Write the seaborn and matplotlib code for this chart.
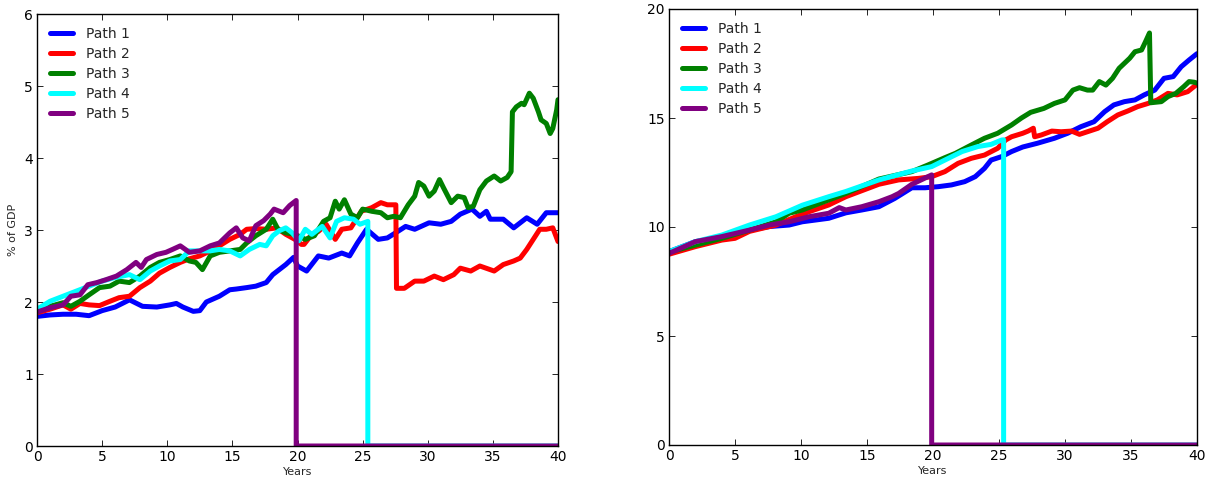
import matplotlib
matplotlib.use("Agg")
import matplotlib.pyplot as plt
import seaborn as sns
import pandas as pd

# ---------------- data: left panel (% of GDP) ----------------
L1_x = [0, 1, 2, 3, 4, 5, 6, 7.1, 8.1, 9.2, 10.2, 10.7, 11.2, 12, 12.5, 13, 14, 14.8, 15.3, 16.1,
        16.8, 17.6, 18.1, 18.6, 19.1, 19.7, 20.0, 20.7, 21.6, 22.4, 23.4, 24, 24.6, 25.3, 26.2, 26.9,
        27.7, 28.3, 29, 30.1, 31, 31.8, 32.5, 33.4, 34, 34.5, 34.8, 35.8, 36.6, 37.6, 38.4, 39.1, 40]
L1_y = [1.80, 1.82, 1.83, 1.83, 1.81, 1.88, 1.93, 2.03, 1.94, 1.93, 1.96, 1.98, 1.93, 1.87, 1.88, 2.00,
        2.08, 2.17, 2.18, 2.20, 2.22, 2.27, 2.38, 2.45, 2.52, 2.62, 2.50, 2.43, 2.64, 2.61, 2.68, 2.64,
        2.82, 3.01, 2.87, 2.89, 2.98, 3.05, 3.01, 3.10, 3.08, 3.12, 3.22, 3.29, 3.19, 3.26, 3.15, 3.15,
        3.03, 3.17, 3.08, 3.24, 3.24]

L2_x = [0, 1, 2, 2.6, 3.3, 4, 4.8, 5.6, 6.3, 7.1, 7.9, 8.7, 9.4, 10.2, 11, 11.7, 12.5, 13.3, 14, 14.8,
        15.6, 16.1, 16.8, 17.6, 18.4, 19.1, 19.8, 20.3, 20.5, 21.1, 21.6, 22.2, 22.9, 23.4, 24.1, 24.9,
        25.7, 26.4, 26.9, 27.55, 27.6, 28.2, 29, 29.7, 30.5, 31.2, 32, 32.5, 33.3, 34, 35.1, 35.8, 36.6,
        37.1, 37.6, 38.1, 38.6, 39.1, 39.6, 40]
L2_y = [1.85, 1.90, 1.96, 1.90, 1.98, 1.96, 1.95, 2.01, 2.06, 2.08, 2.20, 2.29, 2.40, 2.48, 2.55, 2.60,
        2.64, 2.71, 2.78, 2.87, 2.94, 3.01, 3.02, 3.01, 3.03, 2.94, 2.87, 2.80, 2.80, 2.94, 2.98, 3.08,
        2.87, 3.01, 3.03, 3.26, 3.31, 3.38, 3.35, 3.35, 2.19, 2.19, 2.29, 2.29, 2.36, 2.31, 2.38, 2.47,
        2.43, 2.50, 2.43, 2.52, 2.57, 2.61, 2.73, 2.87, 3.01, 3.01, 3.03, 2.84]

L3_x = [0, 1, 2, 2.6, 3.3, 4, 4.8, 5.6, 6.3, 7.1, 7.9, 8.7, 9.4, 10.2, 11, 11.7, 12.2, 12.7, 13.3, 14,
        14.8, 15.6, 16.1, 16.8, 17.6, 18.1, 18.5, 19.1, 19.8, 20.6, 21.3, 22, 22.5, 22.9, 23.2, 23.6,
        24.1, 24.6, 25, 25.7, 26.4, 26.9, 27.4, 27.9, 28.5, 29, 29.3, 29.7, 30.1, 30.5, 30.9, 31.2, 31.8,
        32.3, 32.8, 33.1, 33.5, 34, 34.5, 35.1, 35.6, 36.1, 36.4, 36.5, 36.8, 37.2, 37.4, 37.8, 38.1,
        38.5, 38.7, 39.1, 39.4, 39.6, 39.9, 40]
L3_y = [1.86, 1.94, 1.99, 1.94, 2.01, 2.10, 2.20, 2.22, 2.29, 2.27, 2.36, 2.48, 2.55, 2.59, 2.64, 2.57,
        2.55, 2.45, 2.64, 2.69, 2.71, 2.73, 2.82, 2.92, 3.01, 3.15, 3.01, 2.96, 2.94, 2.87, 2.92, 3.12,
        3.17, 3.40, 3.29, 3.42, 3.22, 3.17, 3.29, 3.26, 3.24, 3.17, 3.19, 3.17, 3.35, 3.47, 3.66, 3.61,
        3.47, 3.54, 3.70, 3.59, 3.38, 3.47, 3.45, 3.31, 3.33, 3.56, 3.68, 3.75, 3.68, 3.73, 3.81, 4.64,
        4.71, 4.76, 4.74, 4.90, 4.83, 4.64, 4.53, 4.48, 4.34, 4.41, 4.67, 4.81]

L4_x = [0, 1, 2, 3, 4, 5, 6, 7.1, 7.9, 8.7, 9.4, 10.2, 11, 11.7, 12.5, 13.3, 14, 14.8, 15.6, 16.3, 17.1,
        17.6, 18.1, 18.6, 19.1, 19.6, 20.1, 20.6, 21.1, 21.9, 22.5, 23, 23.6, 24.3, 24.8, 25.4, 25.4, 40]
L4_y = [1.90, 2.01, 2.08, 2.15, 2.22, 2.29, 2.34, 2.38, 2.31, 2.43, 2.50, 2.57, 2.59, 2.71, 2.71, 2.71,
        2.73, 2.71, 2.64, 2.73, 2.80, 2.78, 2.92, 2.99, 3.03, 2.96, 2.85, 3.01, 2.94, 3.05, 2.89, 3.12,
        3.17, 3.15, 3.08, 3.12, 0, 0]

L5_x = [0, 1, 2, 2.6, 3.3, 3.9, 4.6, 5.3, 6.1, 6.9, 7.6, 8, 8.4, 9.2, 9.9, 10.4, 11, 11.7, 12.5, 13.3,
        14, 14.8, 15.3, 15.8, 16.3, 16.8, 17.4, 17.9, 18.2, 18.9, 19.4, 19.9, 19.9, 40]
L5_y = [1.86, 1.92, 1.96, 2.08, 2.10, 2.24, 2.27, 2.31, 2.36, 2.45, 2.55, 2.48, 2.59, 2.66, 2.69, 2.73,
        2.78, 2.69, 2.71, 2.78, 2.82, 2.96, 3.03, 2.89, 2.85, 3.06, 3.13, 3.22, 3.29, 3.24, 3.34, 3.41, 0, 0]

# ---------------- data: right panel ----------------
R1_x = [0, 2, 4, 6.1, 7.6, 9.1, 10.1, 11.1, 12.1, 13.4, 14.6, 15.9, 17.1, 18.4, 19.4, 20.4, 21.4, 22.4,
        23.2, 23.9, 24.4, 25.2, 25.95, 26.8, 27.9, 29.2, 30.2, 31.2, 32.2, 33, 33.7, 34.5, 35.3, 36, 36.8,
        37.5, 38.2, 38.8, 39.4, 40]
R1_y = [8.87, 9.33, 9.48, 9.86, 10.02, 10.09, 10.24, 10.32, 10.40, 10.65, 10.78, 10.93, 11.31, 11.80,
        11.80, 11.85, 11.93, 12.08, 12.31, 12.69, 13.07, 13.23, 13.46, 13.67, 13.84, 14.07, 14.30, 14.60,
        14.83, 15.29, 15.60, 15.75, 15.83, 16.06, 16.28, 16.82, 16.90, 17.35, 17.66, 17.95]

R2_x = [0, 2, 4, 5, 6.1, 8.1, 9.6, 10.6, 12.1, 13.4, 15.9, 17.4, 18.9, 19.9, 20.9, 21.9, 22.9, 23.9,
        24.9, 25.5, 25.95, 26.8, 27.2, 27.6, 27.7, 28.2, 29, 29.7, 30.5, 31.1, 31.7, 32.5, 33.2, 34,
        34.75, 35.5, 36.3, 37, 37.8, 38.5, 39.3, 40]
R2_y = [8.75, 9.10, 9.40, 9.48, 9.80, 10.09, 10.47, 10.70, 11.01, 11.39, 11.96, 12.16, 12.23, 12.31,
        12.54, 12.92, 13.15, 13.30, 13.61, 13.99, 14.14, 14.30, 14.40, 14.53, 14.14, 14.22, 14.40, 14.37,
        14.40, 14.25, 14.37, 14.53, 14.83, 15.14, 15.32, 15.52, 15.67, 15.83, 16.13, 16.06, 16.21, 16.55]

R3_x = [0, 2, 4, 6.1, 8.1, 9.1, 10.1, 12.1, 13.4, 15.9, 18.4, 19.6, 20.9, 21.7, 22.9, 23.9, 24.9, 25.95,
        26.7, 27.4, 28.4, 29.2, 30, 30.6, 31.1, 31.7, 32.1, 32.6, 33.1, 33.6, 34.1, 34.5, 34.9, 35.3,
        35.8, 36.1, 36.4, 36.5, 37.3, 37.8, 38.4, 39, 39.4, 39.8, 40]
R3_y = [8.85, 9.17, 9.48, 9.86, 10.24, 10.63, 10.78, 11.24, 11.54, 12.20, 12.54, 12.84, 13.18, 13.38,
        13.76, 14.07, 14.30, 14.68, 15.00, 15.26, 15.44, 15.67, 15.83, 16.28, 16.39, 16.28, 16.28, 16.67,
        16.51, 16.82, 17.28, 17.51, 17.74, 18.04, 18.12, 18.50, 18.90, 15.70, 15.75, 15.98, 16.13, 16.44,
        16.67, 16.64, 16.60]

R4_x = [0, 2, 4, 6.1, 8.1, 10.1, 12.1, 13.4, 15.9, 18.4, 19.9, 20.9, 22.2, 23.4, 24.4, 25.2, 25.35,
        25.35, 40]
R4_y = [8.87, 9.33, 9.63, 10.09, 10.47, 11.00, 11.39, 11.63, 12.16, 12.57, 12.77, 13.07, 13.46, 13.69,
        13.79, 13.99, 14.00, 0, 0]

R5_x = [0, 2, 4, 6.1, 7.6, 9.1, 10.6, 12.1, 12.9, 13.4, 14.6, 15.9, 16.9, 17.4, 18.4, 19.1, 19.9,
        19.9, 40]
R5_y = [8.79, 9.33, 9.56, 9.86, 10.09, 10.24, 10.47, 10.63, 10.89, 10.78, 10.93, 11.16, 11.39, 11.54,
        11.96, 12.16, 12.39, 0, 0]

path_names = ["Path 1", "Path 2", "Path 3", "Path 4", "Path 5"]
path_colors = ["blue", "red", "green", "cyan", "purple"]
x_ticks = [0, 5, 10, 15, 20, 25, 30, 35, 40]
left_yticks = [0, 1, 2, 3, 4, 5, 6]
right_yticks = [0, 5, 10, 15, 20]


def long_frame(xs, ys):
    rows = []
    for name, x, y in zip(path_names, xs, ys):
        for i, (xx, yy) in enumerate(zip(x, y)):
            rows.append({"path": name, "order": i, "Years": xx, "value": yy})
    return pd.DataFrame(rows)


left_df = long_frame([L1_x, L2_x, L3_x, L4_x, L5_x], [L1_y, L2_y, L3_y, L4_y, L5_y])
right_df = long_frame([R1_x, R2_x, R3_x, R4_x, R5_x], [R1_y, R2_y, R3_y, R4_y, R5_y])

sns.set_theme(style="ticks")
plt.rcParams["font.family"] = ["DejaVu Sans"]
plt.rcParams.update({
    "xtick.direction": "in", "ytick.direction": "in",
    "xtick.top": True, "ytick.right": True,
    "xtick.major.size": 4, "ytick.major.size": 4,
    "xtick.major.width": 0.6, "ytick.major.width": 0.6,
    "axes.edgecolor": "black", "axes.linewidth": 1.0,
})

fig = plt.figure(figsize=(12.10, 4.79), dpi=100)
axL = fig.add_axes([37 / 1210, 1 - 446 / 479, (558 - 37) / 1210, (446 - 14) / 479])
axR = fig.add_axes([669 / 1210, 1 - 445 / 479, (1197 - 669) / 1210, (445 - 9) / 479])

palette = dict(zip(path_names, path_colors))
for ax, df, yticks, ylim in [(axL, left_df, left_yticks, (0, 6)), (axR, right_df, right_yticks, (0, 20))]:
    sns.lineplot(data=df, x="Years", y="value", hue="path", hue_order=path_names, palette=palette,
                 estimator=None, sort=False, units="path", linewidth=3.6, ax=ax)
    ax.set_xlim(0, 40)
    ax.set_ylim(*ylim)
    ax.set_xticks(x_ticks)
    ax.set_yticks(yticks)
    ax.tick_params(labelsize=10, colors="black", pad=3)
    for s in ax.spines.values():
        s.set_visible(True)
        s.set_color("black")
    ax.set_xlabel("Years", fontsize=8, labelpad=2)
    handles, labels = ax.get_legend_handles_labels()
    ax.legend(handles, labels, loc="upper left", frameon=False, fontsize=10,
              handlelength=1.65, handletextpad=0.95, labelspacing=0.42,
              borderaxespad=0.55)

axL.set_ylabel("% of GDP", fontsize=8, labelpad=4)
axR.set_ylabel("")

fig.savefig("out.png", dpi=100)
